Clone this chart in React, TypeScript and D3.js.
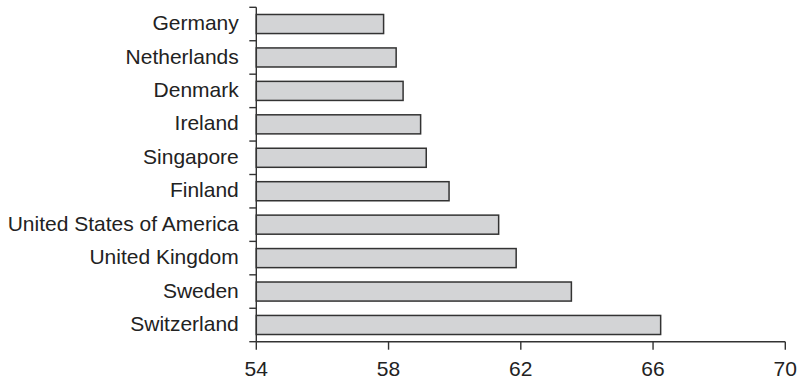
import React from "react";
import * as d3 from "d3";

const countries = [
  "Germany",
  "Netherlands",
  "Denmark",
  "Ireland",
  "Singapore",
  "Finland",
  "United States of America",
  "United Kingdom",
  "Sweden",
  "Switzerland",
];
const values = [57.85, 58.23, 58.44, 58.97, 59.14, 59.83, 61.33, 61.86, 63.53, 66.23];
const xTicks = [54, 58, 62, 66, 70];

const W = 798;
const H = 381;
const left = 256.3;
const right = 785.3;
const top = 7.3;
const bottom = 341.7;

export default function App() {
  const x = d3.scaleLinear().domain([54, 70]).range([left, right]);
  const y = d3.scaleBand().domain(countries).range([top, bottom]).paddingInner(0.43).paddingOuter(0.215);
  const yStep = (bottom - top) / countries.length;
  const axisColor = "#333";
  const font = "'Liberation Sans', Arial, sans-serif";
  return (
    <svg width={W} height={H} style={{ position: "absolute", left: 0, top: 0, background: "#fff" }}>
      {countries.map((c, i) => (
        <rect
          key={c}
          x={x(54)}
          y={y(c)}
          width={x(values[i]) - x(54)}
          height={y.bandwidth()}
          fill="#d3d4d6"
          stroke="#333"
          strokeWidth={1.5}
        />
      ))}
      {/* y axis */}
      <line x1={left} x2={left} y1={top} y2={bottom} stroke={axisColor} strokeWidth={1.4} />
      {d3.range(countries.length + 1).map((i) => (
        <line key={"yt" + i} x1={left - 7} x2={left} y1={top + i * yStep} y2={top + i * yStep} stroke={axisColor} strokeWidth={1.4} />
      ))}
      {countries.map((c) => (
        <text
          key={"yl" + c}
          x={left - 17.5}
          y={(y(c) as number) + y.bandwidth() / 2}
          dy="0.29em"
          textAnchor="end"
          fontFamily={font}
          fontSize={21}
          fill="#222"
        >
          {c}
        </text>
      ))}
      {/* x axis */}
      <line x1={left} x2={right} y1={bottom} y2={bottom} stroke={axisColor} strokeWidth={1.4} />
      {xTicks.map((t) => (
        <g key={"xt" + t}>
          <line x1={x(t)} x2={x(t)} y1={bottom} y2={bottom + 8} stroke={axisColor} strokeWidth={1.4} />
          <text x={x(t)} y={375.5} textAnchor="middle" fontFamily={font} fontSize={21} fill="#222">
            {t}
          </text>
        </g>
      ))}
    </svg>
  );
}
